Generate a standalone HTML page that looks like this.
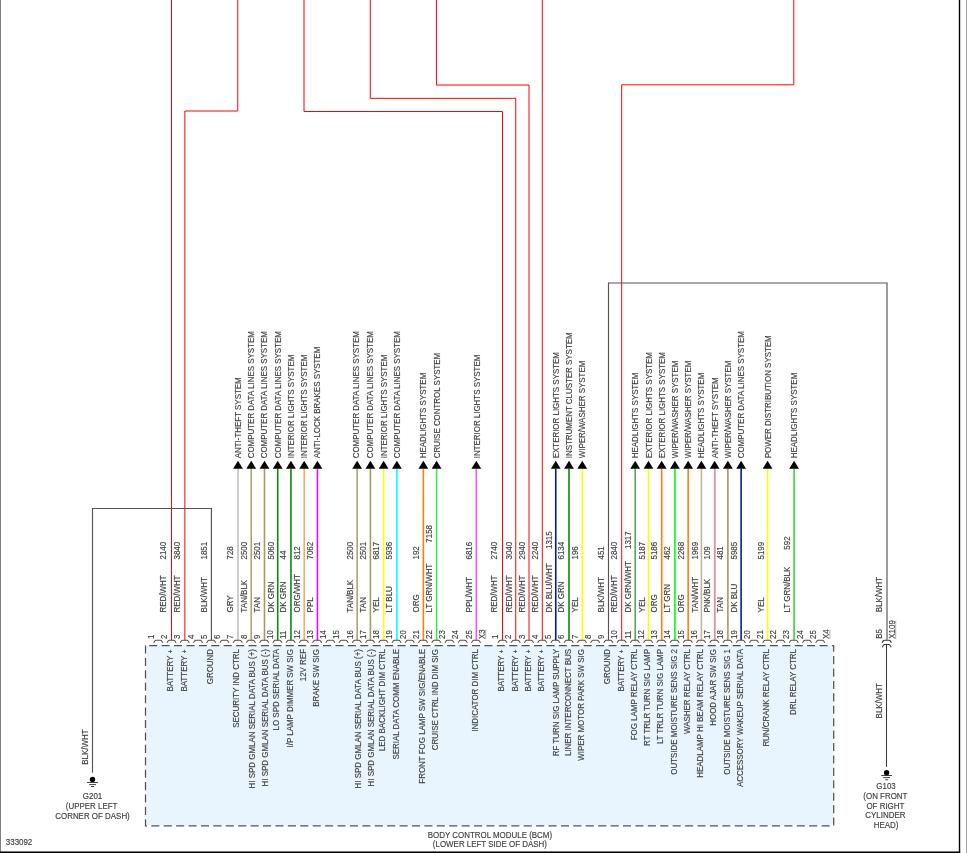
<!DOCTYPE html>
<html lang="en">
<head>
<meta charset="utf-8">
<title>Body Control Module (BCM) wiring diagram</title>
<style>
html,body{margin:0;padding:0;background:#fff;}
body{width:967px;height:853px;overflow:hidden;}
svg{display:block;font-family:"Liberation Sans",Arial,Helvetica,sans-serif;}
svg text{white-space:pre;stroke:#404040;stroke-width:0.14px;}
</style>
</head>
<body>
<svg width="967" height="853" viewBox="0 0 967 853">
<rect x="0" y="0" width="967" height="853" fill="#fff"/>
<rect x="0" y="0" width="1" height="853" fill="#808080"/>
<rect x="958.8" y="0" width="1.4" height="853" fill="#000"/>
<rect x="966" y="0" width="1" height="853" fill="#a8a8a8"/>
<rect x="0" y="851.45" width="960.2" height="2" fill="#000"/>
<rect x="146" y="646" width="687" height="179.3" fill="#e8f5fe"/>
<path d="M145.5 645.5 V825.9 H833.7 V645.5 H145.5" fill="none" stroke="#525252" stroke-width="1.25" stroke-dasharray="8.1 4.313"/>
<g stroke-linecap="butt" stroke-linejoin="miter">
<path d="M238 640.3 L238 468.7" fill="none" stroke="#c0c0c0" stroke-width="1.6"/>
<path d="M251.24 640.3 L251.24 468.7" fill="none" stroke="#aaa07c" stroke-width="1.6"/>
<path d="M264.48 640.3 L264.48 468.7" fill="none" stroke="#a69a62" stroke-width="1.6"/>
<path d="M277.72 640.3 L277.72 468.7" fill="none" stroke="#0a8a0a" stroke-width="1.6"/>
<path d="M290.96 640.3 L290.96 468.7" fill="none" stroke="#0a8a0a" stroke-width="1.6"/>
<path d="M304.2 640.3 L304.2 468.7" fill="none" stroke="#ffa860" stroke-width="1.6"/>
<path d="M317.44 640.3 L317.44 468.7" fill="none" stroke="#ff00ff" stroke-width="1.6"/>
<path d="M357.16 640.3 L357.16 468.7" fill="none" stroke="#aaa07c" stroke-width="1.6"/>
<path d="M370.4 640.3 L370.4 468.7" fill="none" stroke="#a69a62" stroke-width="1.6"/>
<path d="M383.64 640.3 L383.64 468.7" fill="none" stroke="#ffff00" stroke-width="1.6"/>
<path d="M396.88 640.3 L396.88 468.7" fill="none" stroke="#00ffff" stroke-width="1.6"/>
<path d="M423.36 640.3 L423.36 468.7" fill="none" stroke="#ff8000" stroke-width="1.6"/>
<path d="M436.6 640.3 L436.6 468.7" fill="none" stroke="#33ee44" stroke-width="1.6"/>
<path d="M476.32 640.3 L476.32 468.7" fill="none" stroke="#ff55f0" stroke-width="1.6"/>
<path d="M555.76 640.3 L555.76 468.7" fill="none" stroke="#00208c" stroke-width="1.6"/>
<path d="M569 640.3 L569 468.7" fill="none" stroke="#0a8a0a" stroke-width="1.6"/>
<path d="M582.24 640.3 L582.24 468.7" fill="none" stroke="#ffff00" stroke-width="1.6"/>
<path d="M635.2 640.3 L635.2 468.7" fill="none" stroke="#55aa55" stroke-width="1.6"/>
<path d="M648.44 640.3 L648.44 468.7" fill="none" stroke="#ffff00" stroke-width="1.6"/>
<path d="M661.68 640.3 L661.68 468.7" fill="none" stroke="#ff8000" stroke-width="1.6"/>
<path d="M674.92 640.3 L674.92 468.7" fill="none" stroke="#00ff00" stroke-width="1.6"/>
<path d="M688.16 640.3 L688.16 468.7" fill="none" stroke="#ff8000" stroke-width="1.6"/>
<path d="M701.4 640.3 L701.4 468.7" fill="none" stroke="#c0b596" stroke-width="1.6"/>
<path d="M714.64 640.3 L714.64 468.7" fill="none" stroke="#f08ca0" stroke-width="1.6"/>
<path d="M715.19 640.3 L715.19 468.7" fill="none" stroke="#9a9a9a" stroke-width="0.5"/>
<path d="M727.88 640.3 L727.88 468.7" fill="none" stroke="#a69a62" stroke-width="1.6"/>
<path d="M741.12 640.3 L741.12 468.7" fill="none" stroke="#00208c" stroke-width="1.6"/>
<path d="M767.6 640.3 L767.6 468.7" fill="none" stroke="#ffff00" stroke-width="1.6"/>
<path d="M794.08 640.3 L794.08 468.7" fill="none" stroke="#33d838" stroke-width="1.6"/>
<path d="M171.5 640.3 L171.5 -2" fill="none" stroke="#ff0000" stroke-width="1"/>
<path d="M184.85 640.3 L184.85 111 L237.75 111 L237.75 -2" fill="none" stroke="#ff0000" stroke-width="1"/>
<path d="M502.5 640.3 L502.5 111.5 L304 111.5 L304 -2" fill="none" stroke="#ff0000" stroke-width="1"/>
<path d="M515.75 640.3 L515.75 98.35 L370.25 98.35 L370.25 -2" fill="none" stroke="#ff0000" stroke-width="1"/>
<path d="M529 640.3 L529 85 L436.45 85 L436.45 -2" fill="none" stroke="#ff0000" stroke-width="1"/>
<path d="M542.3 640.3 L542.3 -2" fill="none" stroke="#ff0000" stroke-width="1"/>
<path d="M621.7 640.3 L621.7 84.8 L793.8 84.8 L793.8 -2" fill="none" stroke="#ff0000" stroke-width="1"/>
<path d="M211.4 640.3 L211.4 508.5 L92.5 508.5 L92.5 772.8" fill="none" stroke="#555" stroke-width="1.15"/>
<path d="M608.5 640.3 L608.5 283 L887 283 L887 639.8" fill="none" stroke="#555" stroke-width="1.15"/>
<path d="M886.5 644.5 L886.5 766.8" fill="none" stroke="#333" stroke-width="1"/>
</g>
<path d="M233.1 468.7 L242.9 468.7 L238 460.7 Z" fill="#000"/>
<path d="M246.34 468.7 L256.14 468.7 L251.24 460.7 Z" fill="#000"/>
<path d="M259.58 468.7 L269.38 468.7 L264.48 460.7 Z" fill="#000"/>
<path d="M272.82 468.7 L282.62 468.7 L277.72 460.7 Z" fill="#000"/>
<path d="M286.06 468.7 L295.86 468.7 L290.96 460.7 Z" fill="#000"/>
<path d="M299.3 468.7 L309.1 468.7 L304.2 460.7 Z" fill="#000"/>
<path d="M312.54 468.7 L322.34 468.7 L317.44 460.7 Z" fill="#000"/>
<path d="M352.26 468.7 L362.06 468.7 L357.16 460.7 Z" fill="#000"/>
<path d="M365.5 468.7 L375.3 468.7 L370.4 460.7 Z" fill="#000"/>
<path d="M378.74 468.7 L388.54 468.7 L383.64 460.7 Z" fill="#000"/>
<path d="M391.98 468.7 L401.78 468.7 L396.88 460.7 Z" fill="#000"/>
<path d="M418.46 468.7 L428.26 468.7 L423.36 460.7 Z" fill="#000"/>
<path d="M431.7 468.7 L441.5 468.7 L436.6 460.7 Z" fill="#000"/>
<path d="M471.42 468.7 L481.22 468.7 L476.32 460.7 Z" fill="#000"/>
<path d="M550.86 468.7 L560.66 468.7 L555.76 460.7 Z" fill="#000"/>
<path d="M564.1 468.7 L573.9 468.7 L569 460.7 Z" fill="#000"/>
<path d="M577.34 468.7 L587.14 468.7 L582.24 460.7 Z" fill="#000"/>
<path d="M630.3 468.7 L640.1 468.7 L635.2 460.7 Z" fill="#000"/>
<path d="M643.54 468.7 L653.34 468.7 L648.44 460.7 Z" fill="#000"/>
<path d="M656.78 468.7 L666.58 468.7 L661.68 460.7 Z" fill="#000"/>
<path d="M670.02 468.7 L679.82 468.7 L674.92 460.7 Z" fill="#000"/>
<path d="M683.26 468.7 L693.06 468.7 L688.16 460.7 Z" fill="#000"/>
<path d="M696.5 468.7 L706.3 468.7 L701.4 460.7 Z" fill="#000"/>
<path d="M709.74 468.7 L719.54 468.7 L714.64 460.7 Z" fill="#000"/>
<path d="M722.98 468.7 L732.78 468.7 L727.88 460.7 Z" fill="#000"/>
<path d="M736.22 468.7 L746.02 468.7 L741.12 460.7 Z" fill="#000"/>
<path d="M762.7 468.7 L772.5 468.7 L767.6 460.7 Z" fill="#000"/>
<path d="M789.18 468.7 L798.98 468.7 L794.08 460.7 Z" fill="#000"/>
<path d="M153.66 642.7 L154.86 641 Q155.36 640.3 156.06 640.3 L160.46 640.3 Q161.16 640.3 161.66 641 L162.86 642.7" fill="none" stroke="#505050" stroke-width="1.1" stroke-linejoin="round"/>
<text transform="translate(153.96 638.9) rotate(-90) scale(1 1.07)" text-anchor="start" font-size="7.8" fill="#404040">1</text>
<path d="M166.9 642.7 L168.1 641 Q168.6 640.3 169.3 640.3 L173.7 640.3 Q174.4 640.3 174.9 641 L176.1 642.7" fill="none" stroke="#505050" stroke-width="1.1" stroke-linejoin="round"/>
<text transform="translate(167.2 638.9) rotate(-90) scale(1 1.07)" text-anchor="start" font-size="7.8" fill="#404040">2</text>
<path d="M180.14 642.7 L181.34 641 Q181.84 640.3 182.54 640.3 L186.94 640.3 Q187.64 640.3 188.14 641 L189.34 642.7" fill="none" stroke="#505050" stroke-width="1.1" stroke-linejoin="round"/>
<text transform="translate(180.44 638.9) rotate(-90) scale(1 1.07)" text-anchor="start" font-size="7.8" fill="#404040">3</text>
<path d="M193.38 642.7 L194.58 641 Q195.08 640.3 195.78 640.3 L200.18 640.3 Q200.88 640.3 201.38 641 L202.58 642.7" fill="none" stroke="#505050" stroke-width="1.1" stroke-linejoin="round"/>
<text transform="translate(193.68 638.9) rotate(-90) scale(1 1.07)" text-anchor="start" font-size="7.8" fill="#404040">4</text>
<path d="M206.62 642.7 L207.82 641 Q208.32 640.3 209.02 640.3 L213.42 640.3 Q214.12 640.3 214.62 641 L215.82 642.7" fill="none" stroke="#505050" stroke-width="1.1" stroke-linejoin="round"/>
<text transform="translate(206.92 638.9) rotate(-90) scale(1 1.07)" text-anchor="start" font-size="7.8" fill="#404040">5</text>
<path d="M219.86 642.7 L221.06 641 Q221.56 640.3 222.26 640.3 L226.66 640.3 Q227.36 640.3 227.86 641 L229.06 642.7" fill="none" stroke="#505050" stroke-width="1.1" stroke-linejoin="round"/>
<text transform="translate(220.16 638.9) rotate(-90) scale(1 1.07)" text-anchor="start" font-size="7.8" fill="#404040">6</text>
<path d="M233.1 642.7 L234.3 641 Q234.8 640.3 235.5 640.3 L239.9 640.3 Q240.6 640.3 241.1 641 L242.3 642.7" fill="none" stroke="#505050" stroke-width="1.1" stroke-linejoin="round"/>
<text transform="translate(233.4 638.9) rotate(-90) scale(1 1.07)" text-anchor="start" font-size="7.8" fill="#404040">7</text>
<path d="M246.34 642.7 L247.54 641 Q248.04 640.3 248.74 640.3 L253.14 640.3 Q253.84 640.3 254.34 641 L255.54 642.7" fill="none" stroke="#505050" stroke-width="1.1" stroke-linejoin="round"/>
<text transform="translate(246.64 638.9) rotate(-90) scale(1 1.07)" text-anchor="start" font-size="7.8" fill="#404040">8</text>
<path d="M259.58 642.7 L260.78 641 Q261.28 640.3 261.98 640.3 L266.38 640.3 Q267.08 640.3 267.58 641 L268.78 642.7" fill="none" stroke="#505050" stroke-width="1.1" stroke-linejoin="round"/>
<text transform="translate(259.88 638.9) rotate(-90) scale(1 1.07)" text-anchor="start" font-size="7.8" fill="#404040">9</text>
<path d="M272.82 642.7 L274.02 641 Q274.52 640.3 275.22 640.3 L279.62 640.3 Q280.32 640.3 280.82 641 L282.02 642.7" fill="none" stroke="#505050" stroke-width="1.1" stroke-linejoin="round"/>
<text transform="translate(273.12 638.9) rotate(-90) scale(1 1.07)" text-anchor="start" font-size="7.8" fill="#404040">10</text>
<path d="M286.06 642.7 L287.26 641 Q287.76 640.3 288.46 640.3 L292.86 640.3 Q293.56 640.3 294.06 641 L295.26 642.7" fill="none" stroke="#505050" stroke-width="1.1" stroke-linejoin="round"/>
<text transform="translate(286.36 638.9) rotate(-90) scale(1 1.07)" text-anchor="start" font-size="7.8" fill="#404040">11</text>
<path d="M299.3 642.7 L300.5 641 Q301 640.3 301.7 640.3 L306.1 640.3 Q306.8 640.3 307.3 641 L308.5 642.7" fill="none" stroke="#505050" stroke-width="1.1" stroke-linejoin="round"/>
<text transform="translate(299.6 638.9) rotate(-90) scale(1 1.07)" text-anchor="start" font-size="7.8" fill="#404040">12</text>
<path d="M312.54 642.7 L313.74 641 Q314.24 640.3 314.94 640.3 L319.34 640.3 Q320.04 640.3 320.54 641 L321.74 642.7" fill="none" stroke="#505050" stroke-width="1.1" stroke-linejoin="round"/>
<text transform="translate(312.84 638.9) rotate(-90) scale(1 1.07)" text-anchor="start" font-size="7.8" fill="#404040">13</text>
<path d="M325.78 642.7 L326.98 641 Q327.48 640.3 328.18 640.3 L332.58 640.3 Q333.28 640.3 333.78 641 L334.98 642.7" fill="none" stroke="#505050" stroke-width="1.1" stroke-linejoin="round"/>
<text transform="translate(326.08 638.9) rotate(-90) scale(1 1.07)" text-anchor="start" font-size="7.8" fill="#404040">14</text>
<path d="M339.02 642.7 L340.22 641 Q340.72 640.3 341.42 640.3 L345.82 640.3 Q346.52 640.3 347.02 641 L348.22 642.7" fill="none" stroke="#505050" stroke-width="1.1" stroke-linejoin="round"/>
<text transform="translate(339.32 638.9) rotate(-90) scale(1 1.07)" text-anchor="start" font-size="7.8" fill="#404040">15</text>
<path d="M352.26 642.7 L353.46 641 Q353.96 640.3 354.66 640.3 L359.06 640.3 Q359.76 640.3 360.26 641 L361.46 642.7" fill="none" stroke="#505050" stroke-width="1.1" stroke-linejoin="round"/>
<text transform="translate(352.56 638.9) rotate(-90) scale(1 1.07)" text-anchor="start" font-size="7.8" fill="#404040">16</text>
<path d="M365.5 642.7 L366.7 641 Q367.2 640.3 367.9 640.3 L372.3 640.3 Q373 640.3 373.5 641 L374.7 642.7" fill="none" stroke="#505050" stroke-width="1.1" stroke-linejoin="round"/>
<text transform="translate(365.8 638.9) rotate(-90) scale(1 1.07)" text-anchor="start" font-size="7.8" fill="#404040">17</text>
<path d="M378.74 642.7 L379.94 641 Q380.44 640.3 381.14 640.3 L385.54 640.3 Q386.24 640.3 386.74 641 L387.94 642.7" fill="none" stroke="#505050" stroke-width="1.1" stroke-linejoin="round"/>
<text transform="translate(379.04 638.9) rotate(-90) scale(1 1.07)" text-anchor="start" font-size="7.8" fill="#404040">18</text>
<path d="M391.98 642.7 L393.18 641 Q393.68 640.3 394.38 640.3 L398.78 640.3 Q399.48 640.3 399.98 641 L401.18 642.7" fill="none" stroke="#505050" stroke-width="1.1" stroke-linejoin="round"/>
<text transform="translate(392.28 638.9) rotate(-90) scale(1 1.07)" text-anchor="start" font-size="7.8" fill="#404040">19</text>
<path d="M405.22 642.7 L406.42 641 Q406.92 640.3 407.62 640.3 L412.02 640.3 Q412.72 640.3 413.22 641 L414.42 642.7" fill="none" stroke="#505050" stroke-width="1.1" stroke-linejoin="round"/>
<text transform="translate(405.52 638.9) rotate(-90) scale(1 1.07)" text-anchor="start" font-size="7.8" fill="#404040">20</text>
<path d="M418.46 642.7 L419.66 641 Q420.16 640.3 420.86 640.3 L425.26 640.3 Q425.96 640.3 426.46 641 L427.66 642.7" fill="none" stroke="#505050" stroke-width="1.1" stroke-linejoin="round"/>
<text transform="translate(418.76 638.9) rotate(-90) scale(1 1.07)" text-anchor="start" font-size="7.8" fill="#404040">21</text>
<path d="M431.7 642.7 L432.9 641 Q433.4 640.3 434.1 640.3 L438.5 640.3 Q439.2 640.3 439.7 641 L440.9 642.7" fill="none" stroke="#505050" stroke-width="1.1" stroke-linejoin="round"/>
<text transform="translate(432 638.9) rotate(-90) scale(1 1.07)" text-anchor="start" font-size="7.8" fill="#404040">22</text>
<path d="M444.94 642.7 L446.14 641 Q446.64 640.3 447.34 640.3 L451.74 640.3 Q452.44 640.3 452.94 641 L454.14 642.7" fill="none" stroke="#505050" stroke-width="1.1" stroke-linejoin="round"/>
<text transform="translate(445.24 638.9) rotate(-90) scale(1 1.07)" text-anchor="start" font-size="7.8" fill="#404040">23</text>
<path d="M458.18 642.7 L459.38 641 Q459.88 640.3 460.58 640.3 L464.98 640.3 Q465.68 640.3 466.18 641 L467.38 642.7" fill="none" stroke="#505050" stroke-width="1.1" stroke-linejoin="round"/>
<text transform="translate(458.48 638.9) rotate(-90) scale(1 1.07)" text-anchor="start" font-size="7.8" fill="#404040">24</text>
<path d="M471.42 642.7 L472.62 641 Q473.12 640.3 473.82 640.3 L478.22 640.3 Q478.92 640.3 479.42 641 L480.62 642.7" fill="none" stroke="#505050" stroke-width="1.1" stroke-linejoin="round"/>
<text transform="translate(471.72 638.9) rotate(-90) scale(1 1.07)" text-anchor="start" font-size="7.8" fill="#404040">25</text>
<text transform="translate(484.96 639) rotate(-90) scale(1 1.07)" text-anchor="start" font-size="7.8" fill="#404040">X3</text>
<path d="M485.71 639.1 V629.6" stroke="#969696" stroke-width="0.75" fill="none"/>
<path d="M497.9 642.7 L499.1 641 Q499.6 640.3 500.3 640.3 L504.7 640.3 Q505.4 640.3 505.9 641 L507.1 642.7" fill="none" stroke="#505050" stroke-width="1.1" stroke-linejoin="round"/>
<text transform="translate(498.2 638.9) rotate(-90) scale(1 1.07)" text-anchor="start" font-size="7.8" fill="#404040">1</text>
<path d="M511.14 642.7 L512.34 641 Q512.84 640.3 513.54 640.3 L517.94 640.3 Q518.64 640.3 519.14 641 L520.34 642.7" fill="none" stroke="#505050" stroke-width="1.1" stroke-linejoin="round"/>
<text transform="translate(511.44 638.9) rotate(-90) scale(1 1.07)" text-anchor="start" font-size="7.8" fill="#404040">2</text>
<path d="M524.38 642.7 L525.58 641 Q526.08 640.3 526.78 640.3 L531.18 640.3 Q531.88 640.3 532.38 641 L533.58 642.7" fill="none" stroke="#505050" stroke-width="1.1" stroke-linejoin="round"/>
<text transform="translate(524.68 638.9) rotate(-90) scale(1 1.07)" text-anchor="start" font-size="7.8" fill="#404040">3</text>
<path d="M537.62 642.7 L538.82 641 Q539.32 640.3 540.02 640.3 L544.42 640.3 Q545.12 640.3 545.62 641 L546.82 642.7" fill="none" stroke="#505050" stroke-width="1.1" stroke-linejoin="round"/>
<text transform="translate(537.92 638.9) rotate(-90) scale(1 1.07)" text-anchor="start" font-size="7.8" fill="#404040">4</text>
<path d="M550.86 642.7 L552.06 641 Q552.56 640.3 553.26 640.3 L557.66 640.3 Q558.36 640.3 558.86 641 L560.06 642.7" fill="none" stroke="#505050" stroke-width="1.1" stroke-linejoin="round"/>
<text transform="translate(551.16 638.9) rotate(-90) scale(1 1.07)" text-anchor="start" font-size="7.8" fill="#404040">5</text>
<path d="M564.1 642.7 L565.3 641 Q565.8 640.3 566.5 640.3 L570.9 640.3 Q571.6 640.3 572.1 641 L573.3 642.7" fill="none" stroke="#505050" stroke-width="1.1" stroke-linejoin="round"/>
<text transform="translate(564.4 638.9) rotate(-90) scale(1 1.07)" text-anchor="start" font-size="7.8" fill="#404040">6</text>
<path d="M577.34 642.7 L578.54 641 Q579.04 640.3 579.74 640.3 L584.14 640.3 Q584.84 640.3 585.34 641 L586.54 642.7" fill="none" stroke="#505050" stroke-width="1.1" stroke-linejoin="round"/>
<text transform="translate(577.64 638.9) rotate(-90) scale(1 1.07)" text-anchor="start" font-size="7.8" fill="#404040">7</text>
<path d="M590.58 642.7 L591.78 641 Q592.28 640.3 592.98 640.3 L597.38 640.3 Q598.08 640.3 598.58 641 L599.78 642.7" fill="none" stroke="#505050" stroke-width="1.1" stroke-linejoin="round"/>
<text transform="translate(590.88 638.9) rotate(-90) scale(1 1.07)" text-anchor="start" font-size="7.8" fill="#404040">8</text>
<path d="M603.82 642.7 L605.02 641 Q605.52 640.3 606.22 640.3 L610.62 640.3 Q611.32 640.3 611.82 641 L613.02 642.7" fill="none" stroke="#505050" stroke-width="1.1" stroke-linejoin="round"/>
<text transform="translate(604.12 638.9) rotate(-90) scale(1 1.07)" text-anchor="start" font-size="7.8" fill="#404040">9</text>
<path d="M617.06 642.7 L618.26 641 Q618.76 640.3 619.46 640.3 L623.86 640.3 Q624.56 640.3 625.06 641 L626.26 642.7" fill="none" stroke="#505050" stroke-width="1.1" stroke-linejoin="round"/>
<text transform="translate(617.36 638.9) rotate(-90) scale(1 1.07)" text-anchor="start" font-size="7.8" fill="#404040">10</text>
<path d="M630.3 642.7 L631.5 641 Q632 640.3 632.7 640.3 L637.1 640.3 Q637.8 640.3 638.3 641 L639.5 642.7" fill="none" stroke="#505050" stroke-width="1.1" stroke-linejoin="round"/>
<text transform="translate(630.6 638.9) rotate(-90) scale(1 1.07)" text-anchor="start" font-size="7.8" fill="#404040">11</text>
<path d="M643.54 642.7 L644.74 641 Q645.24 640.3 645.94 640.3 L650.34 640.3 Q651.04 640.3 651.54 641 L652.74 642.7" fill="none" stroke="#505050" stroke-width="1.1" stroke-linejoin="round"/>
<text transform="translate(643.84 638.9) rotate(-90) scale(1 1.07)" text-anchor="start" font-size="7.8" fill="#404040">12</text>
<path d="M656.78 642.7 L657.98 641 Q658.48 640.3 659.18 640.3 L663.58 640.3 Q664.28 640.3 664.78 641 L665.98 642.7" fill="none" stroke="#505050" stroke-width="1.1" stroke-linejoin="round"/>
<text transform="translate(657.08 638.9) rotate(-90) scale(1 1.07)" text-anchor="start" font-size="7.8" fill="#404040">13</text>
<path d="M670.02 642.7 L671.22 641 Q671.72 640.3 672.42 640.3 L676.82 640.3 Q677.52 640.3 678.02 641 L679.22 642.7" fill="none" stroke="#505050" stroke-width="1.1" stroke-linejoin="round"/>
<text transform="translate(670.32 638.9) rotate(-90) scale(1 1.07)" text-anchor="start" font-size="7.8" fill="#404040">14</text>
<path d="M683.26 642.7 L684.46 641 Q684.96 640.3 685.66 640.3 L690.06 640.3 Q690.76 640.3 691.26 641 L692.46 642.7" fill="none" stroke="#505050" stroke-width="1.1" stroke-linejoin="round"/>
<text transform="translate(683.56 638.9) rotate(-90) scale(1 1.07)" text-anchor="start" font-size="7.8" fill="#404040">15</text>
<path d="M696.5 642.7 L697.7 641 Q698.2 640.3 698.9 640.3 L703.3 640.3 Q704 640.3 704.5 641 L705.7 642.7" fill="none" stroke="#505050" stroke-width="1.1" stroke-linejoin="round"/>
<text transform="translate(696.8 638.9) rotate(-90) scale(1 1.07)" text-anchor="start" font-size="7.8" fill="#404040">16</text>
<path d="M709.74 642.7 L710.94 641 Q711.44 640.3 712.14 640.3 L716.54 640.3 Q717.24 640.3 717.74 641 L718.94 642.7" fill="none" stroke="#505050" stroke-width="1.1" stroke-linejoin="round"/>
<text transform="translate(710.04 638.9) rotate(-90) scale(1 1.07)" text-anchor="start" font-size="7.8" fill="#404040">17</text>
<path d="M722.98 642.7 L724.18 641 Q724.68 640.3 725.38 640.3 L729.78 640.3 Q730.48 640.3 730.98 641 L732.18 642.7" fill="none" stroke="#505050" stroke-width="1.1" stroke-linejoin="round"/>
<text transform="translate(723.28 638.9) rotate(-90) scale(1 1.07)" text-anchor="start" font-size="7.8" fill="#404040">18</text>
<path d="M736.22 642.7 L737.42 641 Q737.92 640.3 738.62 640.3 L743.02 640.3 Q743.72 640.3 744.22 641 L745.42 642.7" fill="none" stroke="#505050" stroke-width="1.1" stroke-linejoin="round"/>
<text transform="translate(736.52 638.9) rotate(-90) scale(1 1.07)" text-anchor="start" font-size="7.8" fill="#404040">19</text>
<path d="M749.46 642.7 L750.66 641 Q751.16 640.3 751.86 640.3 L756.26 640.3 Q756.96 640.3 757.46 641 L758.66 642.7" fill="none" stroke="#505050" stroke-width="1.1" stroke-linejoin="round"/>
<text transform="translate(749.76 638.9) rotate(-90) scale(1 1.07)" text-anchor="start" font-size="7.8" fill="#404040">20</text>
<path d="M762.7 642.7 L763.9 641 Q764.4 640.3 765.1 640.3 L769.5 640.3 Q770.2 640.3 770.7 641 L771.9 642.7" fill="none" stroke="#505050" stroke-width="1.1" stroke-linejoin="round"/>
<text transform="translate(763 638.9) rotate(-90) scale(1 1.07)" text-anchor="start" font-size="7.8" fill="#404040">21</text>
<path d="M775.94 642.7 L777.14 641 Q777.64 640.3 778.34 640.3 L782.74 640.3 Q783.44 640.3 783.94 641 L785.14 642.7" fill="none" stroke="#505050" stroke-width="1.1" stroke-linejoin="round"/>
<text transform="translate(776.24 638.9) rotate(-90) scale(1 1.07)" text-anchor="start" font-size="7.8" fill="#404040">22</text>
<path d="M789.18 642.7 L790.38 641 Q790.88 640.3 791.58 640.3 L795.98 640.3 Q796.68 640.3 797.18 641 L798.38 642.7" fill="none" stroke="#505050" stroke-width="1.1" stroke-linejoin="round"/>
<text transform="translate(789.48 638.9) rotate(-90) scale(1 1.07)" text-anchor="start" font-size="7.8" fill="#404040">23</text>
<path d="M802.42 642.7 L803.62 641 Q804.12 640.3 804.82 640.3 L809.22 640.3 Q809.92 640.3 810.42 641 L811.62 642.7" fill="none" stroke="#505050" stroke-width="1.1" stroke-linejoin="round"/>
<text transform="translate(802.72 638.9) rotate(-90) scale(1 1.07)" text-anchor="start" font-size="7.8" fill="#404040">24</text>
<path d="M815.66 642.7 L816.86 641 Q817.36 640.3 818.06 640.3 L822.46 640.3 Q823.16 640.3 823.66 641 L824.86 642.7" fill="none" stroke="#505050" stroke-width="1.1" stroke-linejoin="round"/>
<text transform="translate(815.96 638.9) rotate(-90) scale(1 1.07)" text-anchor="start" font-size="7.8" fill="#404040">25</text>
<text transform="translate(829.2 639) rotate(-90) scale(1 1.07)" text-anchor="start" font-size="7.8" fill="#404040">X4</text>
<path d="M829.95 639.1 V629.6" stroke="#969696" stroke-width="0.75" fill="none"/>
<text transform="translate(172.7 649.45) rotate(-90) scale(1 1.07)" text-anchor="end" font-size="7.95" fill="#404040">BATTERY <tspan font-size="6.3" dx="0.5" dy="-0.05">+</tspan></text>
<text transform="translate(166.3 612.4) rotate(-90) scale(1 1.07)" text-anchor="start" font-size="7.95" fill="#404040">RED/WHT</text>
<text transform="translate(166.3 559.5) rotate(-90) scale(1 1.07)" text-anchor="start" font-size="7.95" fill="#404040">2140</text>
<text transform="translate(186.74 649.45) rotate(-90) scale(1 1.07)" text-anchor="end" font-size="7.95" fill="#404040">BATTERY <tspan font-size="6.3" dx="0.5" dy="-0.05">+</tspan></text>
<text transform="translate(179.74 612.4) rotate(-90) scale(1 1.07)" text-anchor="start" font-size="7.95" fill="#404040">RED/WHT</text>
<text transform="translate(179.74 559.5) rotate(-90) scale(1 1.07)" text-anchor="start" font-size="7.95" fill="#404040">3840</text>
<text transform="translate(213.22 649) rotate(-90) scale(1 1.07)" text-anchor="end" font-size="7.95" fill="#404040">GROUND</text>
<text transform="translate(207.22 612.4) rotate(-90) scale(1 1.07)" text-anchor="start" font-size="7.95" fill="#404040">BLK/WHT</text>
<text transform="translate(207.22 559.5) rotate(-90) scale(1 1.07)" text-anchor="start" font-size="7.95" fill="#404040">1851</text>
<text transform="translate(239.2 649) rotate(-90) scale(1 1.07)" text-anchor="end" font-size="7.95" fill="#404040">SECURITY IND CTRL</text>
<text transform="translate(232.7 612.4) rotate(-90) scale(1 1.07)" text-anchor="start" font-size="7.95" fill="#404040">GRY</text>
<text transform="translate(232.7 559.5) rotate(-90) scale(1 1.07)" text-anchor="start" font-size="7.95" fill="#404040">728</text>
<text transform="translate(240.7 458.3) rotate(-90) scale(1 1.07)" text-anchor="start" font-size="7.95" fill="#404040">ANTI-THEFT SYSTEM</text>
<text transform="translate(255.09 649) rotate(-90) scale(1 1.07)" text-anchor="end" font-size="7.95" fill="#404040">HI SPD GMLAN SERIAL DATA BUS (+)</text>
<text transform="translate(246.94 612.4) rotate(-90) scale(1 1.07)" text-anchor="start" font-size="7.95" fill="#404040">TAN/BLK</text>
<text transform="translate(246.94 559.5) rotate(-90) scale(1 1.07)" text-anchor="start" font-size="7.95" fill="#404040">2500</text>
<text transform="translate(254.34 458.3) rotate(-90) scale(1 1.07)" text-anchor="start" font-size="7.95" fill="#404040">COMPUTER DATA LINES SYSTEM</text>
<text transform="translate(268.33 649) rotate(-90) scale(1 1.07)" text-anchor="end" font-size="7.95" fill="#404040">HI SPD GMLAN SERIAL DATA BUS (-)</text>
<text transform="translate(260.18 612.4) rotate(-90) scale(1 1.07)" text-anchor="start" font-size="7.95" fill="#404040">TAN</text>
<text transform="translate(260.18 559.5) rotate(-90) scale(1 1.07)" text-anchor="start" font-size="7.95" fill="#404040">2501</text>
<text transform="translate(267.18 458.3) rotate(-90) scale(1 1.07)" text-anchor="start" font-size="7.95" fill="#404040">COMPUTER DATA LINES SYSTEM</text>
<text transform="translate(279.42 649) rotate(-90) scale(1 1.07)" text-anchor="end" font-size="7.95" fill="#404040">LO SPD SERIAL DATA</text>
<text transform="translate(273.67 612.4) rotate(-90) scale(1 1.07)" text-anchor="start" font-size="7.95" fill="#404040">DK GRN</text>
<text transform="translate(273.67 559.5) rotate(-90) scale(1 1.07)" text-anchor="start" font-size="7.95" fill="#404040">5060</text>
<text transform="translate(281.17 458.3) rotate(-90) scale(1 1.07)" text-anchor="start" font-size="7.95" fill="#404040">COMPUTER DATA LINES SYSTEM</text>
<text transform="translate(292.66 649) rotate(-90) scale(1 1.07)" text-anchor="end" font-size="7.95" fill="#404040">I/P LAMP DIMMER SW SIG</text>
<text transform="translate(286.06 612.4) rotate(-90) scale(1 1.07)" text-anchor="start" font-size="7.95" fill="#404040">DK GRN</text>
<text transform="translate(286.06 559.5) rotate(-90) scale(1 1.07)" text-anchor="start" font-size="7.95" fill="#404040">44</text>
<text transform="translate(293.96 458.3) rotate(-90) scale(1 1.07)" text-anchor="start" font-size="7.95" fill="#404040">INTERIOR LIGHTS SYSTEM</text>
<text transform="translate(305.9 649) rotate(-90) scale(1 1.07)" text-anchor="end" font-size="7.95" fill="#404040">12V REF</text>
<text transform="translate(299.9 612.4) rotate(-90) scale(1 1.07)" text-anchor="start" font-size="7.95" fill="#404040">ORG/WHT</text>
<text transform="translate(299.9 559.5) rotate(-90) scale(1 1.07)" text-anchor="start" font-size="7.95" fill="#404040">812</text>
<text transform="translate(306.9 458.3) rotate(-90) scale(1 1.07)" text-anchor="start" font-size="7.95" fill="#404040">INTERIOR LIGHTS SYSTEM</text>
<text transform="translate(319.14 649) rotate(-90) scale(1 1.07)" text-anchor="end" font-size="7.95" fill="#404040">BRAKE SW SIG</text>
<text transform="translate(313.14 612.4) rotate(-90) scale(1 1.07)" text-anchor="start" font-size="7.95" fill="#404040">PPL</text>
<text transform="translate(313.14 559.5) rotate(-90) scale(1 1.07)" text-anchor="start" font-size="7.95" fill="#404040">7062</text>
<text transform="translate(320.14 458.3) rotate(-90) scale(1 1.07)" text-anchor="start" font-size="7.95" fill="#404040">ANTI-LOCK BRAKES SYSTEM</text>
<text transform="translate(361.01 649) rotate(-90) scale(1 1.07)" text-anchor="end" font-size="7.95" fill="#404040">HI SPD GMLAN SERIAL DATA BUS (+)</text>
<text transform="translate(353.11 612.4) rotate(-90) scale(1 1.07)" text-anchor="start" font-size="7.95" fill="#404040">TAN/BLK</text>
<text transform="translate(353.11 559.5) rotate(-90) scale(1 1.07)" text-anchor="start" font-size="7.95" fill="#404040">2500</text>
<text transform="translate(359.46 458.3) rotate(-90) scale(1 1.07)" text-anchor="start" font-size="7.95" fill="#404040">COMPUTER DATA LINES SYSTEM</text>
<text transform="translate(374.25 649) rotate(-90) scale(1 1.07)" text-anchor="end" font-size="7.95" fill="#404040">HI SPD GMLAN SERIAL DATA BUS (-)</text>
<text transform="translate(366.1 612.4) rotate(-90) scale(1 1.07)" text-anchor="start" font-size="7.95" fill="#404040">TAN</text>
<text transform="translate(366.1 559.5) rotate(-90) scale(1 1.07)" text-anchor="start" font-size="7.95" fill="#404040">2501</text>
<text transform="translate(373.1 458.3) rotate(-90) scale(1 1.07)" text-anchor="start" font-size="7.95" fill="#404040">COMPUTER DATA LINES SYSTEM</text>
<text transform="translate(385.34 649) rotate(-90) scale(1 1.07)" text-anchor="end" font-size="7.95" fill="#404040">LED BACKLIGHT DIM CTRL</text>
<text transform="translate(379.34 612.4) rotate(-90) scale(1 1.07)" text-anchor="start" font-size="7.95" fill="#404040">YEL</text>
<text transform="translate(379.34 559.5) rotate(-90) scale(1 1.07)" text-anchor="start" font-size="7.95" fill="#404040">6817</text>
<text transform="translate(387.14 458.3) rotate(-90) scale(1 1.07)" text-anchor="start" font-size="7.95" fill="#404040">INTERIOR LIGHTS SYSTEM</text>
<text transform="translate(398.58 649) rotate(-90) scale(1 1.07)" text-anchor="end" font-size="7.95" fill="#404040">SERIAL DATA COMM ENABLE</text>
<text transform="translate(391.58 612.4) rotate(-90) scale(1 1.07)" text-anchor="start" font-size="7.95" fill="#404040">LT BLU</text>
<text transform="translate(391.58 559.5) rotate(-90) scale(1 1.07)" text-anchor="start" font-size="7.95" fill="#404040">5936</text>
<text transform="translate(399.88 458.3) rotate(-90) scale(1 1.07)" text-anchor="start" font-size="7.95" fill="#404040">COMPUTER DATA LINES SYSTEM</text>
<text transform="translate(425.06 649) rotate(-90) scale(1 1.07)" text-anchor="end" font-size="7.95" fill="#404040">FRONT FOG LAMP SW SIG/ENABLE</text>
<text transform="translate(419.06 612.4) rotate(-90) scale(1 1.07)" text-anchor="start" font-size="7.95" fill="#404040">ORG</text>
<text transform="translate(419.06 559.5) rotate(-90) scale(1 1.07)" text-anchor="start" font-size="7.95" fill="#404040">192</text>
<text transform="translate(426.06 458.3) rotate(-90) scale(1 1.07)" text-anchor="start" font-size="7.95" fill="#404040">HEADLIGHTS SYSTEM</text>
<text transform="translate(438.3 649) rotate(-90) scale(1 1.07)" text-anchor="end" font-size="7.95" fill="#404040">CRUISE CTRL IND DIM SIG</text>
<text transform="translate(432.3 612.4) rotate(-90) scale(1 1.07)" text-anchor="start" font-size="7.95" fill="#404040">LT GRN/WHT</text>
<text transform="translate(432.3 542.7) rotate(-90) scale(1 1.07)" text-anchor="start" font-size="7.95" fill="#404040">7158</text>
<text transform="translate(440 458.3) rotate(-90) scale(1 1.07)" text-anchor="start" font-size="7.95" fill="#404040">CRUISE CONTROL SYSTEM</text>
<text transform="translate(478.02 649) rotate(-90) scale(1 1.07)" text-anchor="end" font-size="7.95" fill="#404040">INDICATOR DIM CTRL</text>
<text transform="translate(472.02 612.4) rotate(-90) scale(1 1.07)" text-anchor="start" font-size="7.95" fill="#404040">PPL/WHT</text>
<text transform="translate(472.02 559.5) rotate(-90) scale(1 1.07)" text-anchor="start" font-size="7.95" fill="#404040">6816</text>
<text transform="translate(479.72 458.3) rotate(-90) scale(1 1.07)" text-anchor="start" font-size="7.95" fill="#404040">INTERIOR LIGHTS SYSTEM</text>
<text transform="translate(503.9 649.45) rotate(-90) scale(1 1.07)" text-anchor="end" font-size="7.95" fill="#404040">BATTERY <tspan font-size="6.3" dx="0.5" dy="-0.05">+</tspan></text>
<text transform="translate(497.4 612.4) rotate(-90) scale(1 1.07)" text-anchor="start" font-size="7.95" fill="#404040">RED/WHT</text>
<text transform="translate(497.4 559.5) rotate(-90) scale(1 1.07)" text-anchor="start" font-size="7.95" fill="#404040">2740</text>
<text transform="translate(517.74 649.45) rotate(-90) scale(1 1.07)" text-anchor="end" font-size="7.95" fill="#404040">BATTERY <tspan font-size="6.3" dx="0.5" dy="-0.05">+</tspan></text>
<text transform="translate(511.74 612.4) rotate(-90) scale(1 1.07)" text-anchor="start" font-size="7.95" fill="#404040">RED/WHT</text>
<text transform="translate(511.74 559.5) rotate(-90) scale(1 1.07)" text-anchor="start" font-size="7.95" fill="#404040">3040</text>
<text transform="translate(530.98 649.45) rotate(-90) scale(1 1.07)" text-anchor="end" font-size="7.95" fill="#404040">BATTERY <tspan font-size="6.3" dx="0.5" dy="-0.05">+</tspan></text>
<text transform="translate(524.98 612.4) rotate(-90) scale(1 1.07)" text-anchor="start" font-size="7.95" fill="#404040">RED/WHT</text>
<text transform="translate(524.98 559.5) rotate(-90) scale(1 1.07)" text-anchor="start" font-size="7.95" fill="#404040">2940</text>
<text transform="translate(544.22 649.45) rotate(-90) scale(1 1.07)" text-anchor="end" font-size="7.95" fill="#404040">BATTERY <tspan font-size="6.3" dx="0.5" dy="-0.05">+</tspan></text>
<text transform="translate(538.22 612.4) rotate(-90) scale(1 1.07)" text-anchor="start" font-size="7.95" fill="#404040">RED/WHT</text>
<text transform="translate(538.22 559.5) rotate(-90) scale(1 1.07)" text-anchor="start" font-size="7.95" fill="#404040">2240</text>
<text transform="translate(558.76 649) rotate(-90) scale(1 1.07)" text-anchor="end" font-size="7.95" fill="#404040">RF TURN SIG LAMP SUPPLY</text>
<text transform="translate(551.86 612.4) rotate(-90) scale(1 1.07)" text-anchor="start" font-size="7.95" fill="#404040">DK BLU/WHT</text>
<text transform="translate(551.86 549) rotate(-90) scale(1 1.07)" text-anchor="start" font-size="7.95" fill="#404040">1315</text>
<text transform="translate(559.16 458.3) rotate(-90) scale(1 1.07)" text-anchor="start" font-size="7.95" fill="#404040">EXTERIOR LIGHTS SYSTEM</text>
<text transform="translate(570.7 649) rotate(-90) scale(1 1.07)" text-anchor="end" font-size="7.95" fill="#404040">LINER INTERCONNECT BUS</text>
<text transform="translate(564.1 612.4) rotate(-90) scale(1 1.07)" text-anchor="start" font-size="7.95" fill="#404040">DK GRN</text>
<text transform="translate(564.1 559.5) rotate(-90) scale(1 1.07)" text-anchor="start" font-size="7.95" fill="#404040">6134</text>
<text transform="translate(572.1 458.3) rotate(-90) scale(1 1.07)" text-anchor="start" font-size="7.95" fill="#404040">INSTRUMENT CLUSTER SYSTEM</text>
<text transform="translate(584.44 649) rotate(-90) scale(1 1.07)" text-anchor="end" font-size="7.95" fill="#404040">WIPER MOTOR PARK SW SIG</text>
<text transform="translate(577.94 612.4) rotate(-90) scale(1 1.07)" text-anchor="start" font-size="7.95" fill="#404040">YEL</text>
<text transform="translate(577.94 559.5) rotate(-90) scale(1 1.07)" text-anchor="start" font-size="7.95" fill="#404040">196</text>
<text transform="translate(585.34 458.3) rotate(-90) scale(1 1.07)" text-anchor="start" font-size="7.95" fill="#404040">WIPER/WASHER SYSTEM</text>
<text transform="translate(610.42 649) rotate(-90) scale(1 1.07)" text-anchor="end" font-size="7.95" fill="#404040">GROUND</text>
<text transform="translate(604.42 612.4) rotate(-90) scale(1 1.07)" text-anchor="start" font-size="7.95" fill="#404040">BLK/WHT</text>
<text transform="translate(604.42 559.5) rotate(-90) scale(1 1.07)" text-anchor="start" font-size="7.95" fill="#404040">451</text>
<text transform="translate(623.66 649.45) rotate(-90) scale(1 1.07)" text-anchor="end" font-size="7.95" fill="#404040">BATTERY <tspan font-size="6.3" dx="0.5" dy="-0.05">+</tspan></text>
<text transform="translate(617.06 612.4) rotate(-90) scale(1 1.07)" text-anchor="start" font-size="7.95" fill="#404040">RED/WHT</text>
<text transform="translate(617.06 559.5) rotate(-90) scale(1 1.07)" text-anchor="start" font-size="7.95" fill="#404040">2840</text>
<text transform="translate(636.9 649) rotate(-90) scale(1 1.07)" text-anchor="end" font-size="7.95" fill="#404040">FOG LAMP RELAY CTRL</text>
<text transform="translate(631.15 612.4) rotate(-90) scale(1 1.07)" text-anchor="start" font-size="7.95" fill="#404040">DK GRN/WHT</text>
<text transform="translate(631.15 549) rotate(-90) scale(1 1.07)" text-anchor="start" font-size="7.95" fill="#404040">1317</text>
<text transform="translate(637.9 458.3) rotate(-90) scale(1 1.07)" text-anchor="start" font-size="7.95" fill="#404040">HEADLIGHTS SYSTEM</text>
<text transform="translate(650.14 649) rotate(-90) scale(1 1.07)" text-anchor="end" font-size="7.95" fill="#404040">RT TRLR TURN SIG LAMP</text>
<text transform="translate(644.54 612.4) rotate(-90) scale(1 1.07)" text-anchor="start" font-size="7.95" fill="#404040">YEL</text>
<text transform="translate(644.54 559.5) rotate(-90) scale(1 1.07)" text-anchor="start" font-size="7.95" fill="#404040">5187</text>
<text transform="translate(651.54 458.3) rotate(-90) scale(1 1.07)" text-anchor="start" font-size="7.95" fill="#404040">EXTERIOR LIGHTS SYSTEM</text>
<text transform="translate(663.38 649) rotate(-90) scale(1 1.07)" text-anchor="end" font-size="7.95" fill="#404040">LT TRLR TURN SIG LAMP</text>
<text transform="translate(657.38 612.4) rotate(-90) scale(1 1.07)" text-anchor="start" font-size="7.95" fill="#404040">ORG</text>
<text transform="translate(657.38 559.5) rotate(-90) scale(1 1.07)" text-anchor="start" font-size="7.95" fill="#404040">5186</text>
<text transform="translate(665.38 458.3) rotate(-90) scale(1 1.07)" text-anchor="start" font-size="7.95" fill="#404040">EXTERIOR LIGHTS SYSTEM</text>
<text transform="translate(676.62 649) rotate(-90) scale(1 1.07)" text-anchor="end" font-size="7.95" fill="#404040">OUTSIDE MOISTURE SENS SIG 2</text>
<text transform="translate(670.12 612.4) rotate(-90) scale(1 1.07)" text-anchor="start" font-size="7.95" fill="#404040">LT GRN</text>
<text transform="translate(670.12 559.5) rotate(-90) scale(1 1.07)" text-anchor="start" font-size="7.95" fill="#404040">462</text>
<text transform="translate(678.02 458.3) rotate(-90) scale(1 1.07)" text-anchor="start" font-size="7.95" fill="#404040">WIPER/WASHER SYSTEM</text>
<text transform="translate(689.86 649) rotate(-90) scale(1 1.07)" text-anchor="end" font-size="7.95" fill="#404040">WASHER RELAY CTRL</text>
<text transform="translate(683.86 612.4) rotate(-90) scale(1 1.07)" text-anchor="start" font-size="7.95" fill="#404040">ORG</text>
<text transform="translate(683.86 559.5) rotate(-90) scale(1 1.07)" text-anchor="start" font-size="7.95" fill="#404040">2268</text>
<text transform="translate(690.86 458.3) rotate(-90) scale(1 1.07)" text-anchor="start" font-size="7.95" fill="#404040">WIPER/WASHER SYSTEM</text>
<text transform="translate(703.1 649) rotate(-90) scale(1 1.07)" text-anchor="end" font-size="7.95" fill="#404040">HEADLAMP HI BEAM RELAY CTRL</text>
<text transform="translate(697.7 612.4) rotate(-90) scale(1 1.07)" text-anchor="start" font-size="7.95" fill="#404040">TAN/WHT</text>
<text transform="translate(697.7 559.5) rotate(-90) scale(1 1.07)" text-anchor="start" font-size="7.95" fill="#404040">1969</text>
<text transform="translate(704.1 458.3) rotate(-90) scale(1 1.07)" text-anchor="start" font-size="7.95" fill="#404040">HEADLIGHTS SYSTEM</text>
<text transform="translate(716.34 649) rotate(-90) scale(1 1.07)" text-anchor="end" font-size="7.95" fill="#404040">HOOD AJAR SW SIG</text>
<text transform="translate(710.34 612.4) rotate(-90) scale(1 1.07)" text-anchor="start" font-size="7.95" fill="#404040">PNK/BLK</text>
<text transform="translate(710.34 559.5) rotate(-90) scale(1 1.07)" text-anchor="start" font-size="7.95" fill="#404040">109</text>
<text transform="translate(718.34 458.3) rotate(-90) scale(1 1.07)" text-anchor="start" font-size="7.95" fill="#404040">ANTI-THEFT SYSTEM</text>
<text transform="translate(729.58 649) rotate(-90) scale(1 1.07)" text-anchor="end" font-size="7.95" fill="#404040">OUTSIDE MOISTURE SENS SIG 1</text>
<text transform="translate(722.98 612.4) rotate(-90) scale(1 1.07)" text-anchor="start" font-size="7.95" fill="#404040">TAN</text>
<text transform="translate(722.98 559.5) rotate(-90) scale(1 1.07)" text-anchor="start" font-size="7.95" fill="#404040">481</text>
<text transform="translate(730.58 458.3) rotate(-90) scale(1 1.07)" text-anchor="start" font-size="7.95" fill="#404040">WIPER/WASHER SYSTEM</text>
<text transform="translate(742.82 649) rotate(-90) scale(1 1.07)" text-anchor="end" font-size="7.95" fill="#404040">ACCESSORY WAKEUP SERIAL DATA</text>
<text transform="translate(736.82 612.4) rotate(-90) scale(1 1.07)" text-anchor="start" font-size="7.95" fill="#404040">DK BLU</text>
<text transform="translate(736.82 559.5) rotate(-90) scale(1 1.07)" text-anchor="start" font-size="7.95" fill="#404040">5985</text>
<text transform="translate(743.82 458.3) rotate(-90) scale(1 1.07)" text-anchor="start" font-size="7.95" fill="#404040">COMPUTER DATA LINES SYSTEM</text>
<text transform="translate(769.3 649) rotate(-90) scale(1 1.07)" text-anchor="end" font-size="7.95" fill="#404040">RUN/CRANK RELAY CTRL</text>
<text transform="translate(763.7 612.4) rotate(-90) scale(1 1.07)" text-anchor="start" font-size="7.95" fill="#404040">YEL</text>
<text transform="translate(763.7 559.5) rotate(-90) scale(1 1.07)" text-anchor="start" font-size="7.95" fill="#404040">5199</text>
<text transform="translate(771.3 458.3) rotate(-90) scale(1 1.07)" text-anchor="start" font-size="7.95" fill="#404040">POWER DISTRIBUTION SYSTEM</text>
<text transform="translate(795.78 649) rotate(-90) scale(1 1.07)" text-anchor="end" font-size="7.95" fill="#404040">DRL RELAY CTRL</text>
<text transform="translate(789.78 612.4) rotate(-90) scale(1 1.07)" text-anchor="start" font-size="7.95" fill="#404040">LT GRN/BLK</text>
<text transform="translate(789.78 549.7) rotate(-90) scale(1 1.07)" text-anchor="start" font-size="7.95" fill="#404040">592</text>
<text transform="translate(796.78 458.3) rotate(-90) scale(1 1.07)" text-anchor="start" font-size="7.95" fill="#404040">HEADLIGHTS SYSTEM</text>
<circle cx="92.5" cy="779.4" r="2.7" fill="#000"/>
<path d="M87.05 782.5 H97.95" stroke="#111" stroke-width="0.8" fill="none"/>
<path d="M89.05 784.6 H95.95" stroke="#111" stroke-width="0.8" fill="none"/>
<path d="M91.05 786.5 H93.95" stroke="#111" stroke-width="0.8" fill="none"/>
<text transform="translate(87.9 764.7) rotate(-90) scale(1 1.07)" text-anchor="start" font-size="7.95" fill="#404040">BLK/WHT</text>
<text transform="translate(92.5 799) scale(1 1.07)" text-anchor="middle" font-size="7.95" fill="#404040">G201</text>
<text transform="translate(91.6 809) scale(1 1.07)" text-anchor="middle" font-size="7.95" fill="#404040">(UPPER LEFT</text>
<text transform="translate(92.5 818.9) scale(1 1.07)" text-anchor="middle" font-size="7.95" fill="#404040">CORNER OF DASH)</text>
<circle cx="886.6" cy="772.8" r="2.7" fill="#000"/>
<path d="M881.15 775.5 H892.05" stroke="#111" stroke-width="0.8" fill="none"/>
<path d="M883.15 777.6 H890.05" stroke="#111" stroke-width="0.8" fill="none"/>
<path d="M885.15 779.8 H888.05" stroke="#111" stroke-width="0.8" fill="none"/>
<text transform="translate(886 789.2) scale(1 1.07)" text-anchor="middle" font-size="7.95" fill="#404040">G103</text>
<text transform="translate(885.4 799) scale(1 1.07)" text-anchor="middle" font-size="7.95" fill="#404040">(ON FRONT</text>
<text transform="translate(885.4 808.8) scale(1 1.07)" text-anchor="middle" font-size="7.95" fill="#404040">OF RIGHT</text>
<text transform="translate(885.4 818.4) scale(1 1.07)" text-anchor="middle" font-size="7.95" fill="#404040">CYLINDER</text>
<text transform="translate(886.1 828) scale(1 1.07)" text-anchor="middle" font-size="7.95" fill="#404040">HEAD)</text>
<path d="M882 642.6 L883.2 640.9 Q883.7 640.2 884.4 640.2 L889 640.2 Q889.7 640.2 890.2 640.9 L891.4 642.6" fill="none" stroke="#333" stroke-width="1.1" stroke-linejoin="round"/>
<path d="M882.2 647.2 L883.4 645.2 Q883.9 644.5 884.6 644.5 L888.8 644.5 Q889.5 644.5 890 645.2 L891.2 647.2" fill="none" stroke="#333" stroke-width="1.1" stroke-linejoin="round"/>
<text transform="translate(882.2 612.2) rotate(-90) scale(1 1.07)" text-anchor="start" font-size="7.95" fill="#404040">BLK/WHT</text>
<text transform="translate(882.2 718.4) rotate(-90) scale(1 1.07)" text-anchor="start" font-size="7.95" fill="#404040">BLK/WHT</text>
<text transform="translate(882.2 638.7) rotate(-90) scale(1 1.07)" text-anchor="start" font-size="7.95" fill="#404040">B5</text>
<text transform="translate(895 638.7) rotate(-90) scale(1 1.07)" text-anchor="start" font-size="7.95" fill="#404040">X109</text>
<path d="M895.7 639 V620.6" stroke="#969696" stroke-width="0.75" fill="none"/>
<text transform="translate(489.9 838) scale(1 1.07)" text-anchor="middle" font-size="7.95" fill="#404040">BODY CONTROL MODULE (BCM)</text>
<text transform="translate(489.9 847.3) scale(1 1.07)" text-anchor="middle" font-size="7.95" fill="#404040">(LOWER LEFT SIDE OF DASH)</text>
<text transform="translate(5.8 845) scale(1 1.07)" text-anchor="start" font-size="7.95" fill="#404040">333092</text>
</svg>
</body>
</html>
